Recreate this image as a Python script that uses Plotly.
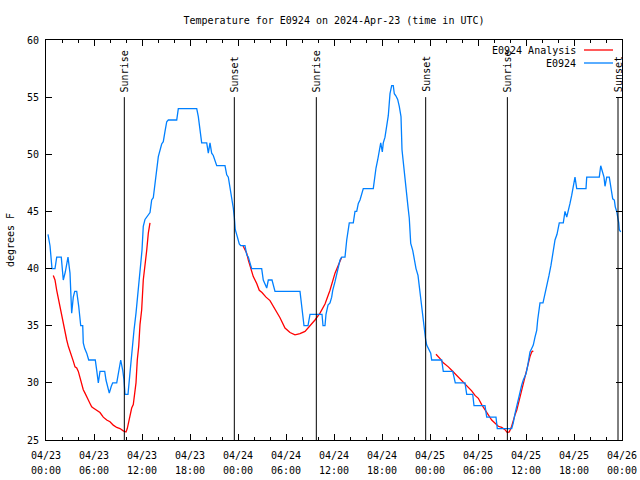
import plotly.graph_objects as go
import pandas as pd

TITLE = "Temperature for E0924 on 2024-Apr-23 (time in UTC)"
START = "2024-04-23 00:00"
END = "2024-04-26 00:00"

# Observations (E0924): hours since 2024-04-23 00:00 UTC, degrees F
obs_hours = [0.25, 0.5, 0.75, 1.125, 1.34, 1.91, 2.16, 2.41, 2.75, 3.0, 3.21, 3.41, 3.59, 3.84,
             4.09, 4.25, 4.34, 4.59, 4.66, 4.84, 5.09, 5.34, 6.16, 6.34, 6.54, 6.75, 7.34, 7.5,
             7.91, 8.16, 8.34, 8.84, 9.09, 9.34, 9.59, 9.75, 9.875, 10.25, 10.5, 10.75, 11.0,
             11.25, 11.5, 11.75, 12.0, 12.16, 12.375, 13.0, 13.21, 13.41, 13.625, 13.84, 14.04,
             14.46, 14.66, 14.875, 15.09, 15.29, 16.34, 16.54, 18.84, 19.04, 19.25, 19.46, 20.09,
             20.29, 20.5, 20.71, 20.91, 21.125, 21.34, 22.375, 22.59, 22.79, 23.0, 23.21, 23.41,
             23.54, 23.66, 23.91, 24.16, 24.34, 24.875, 25.09, 25.29, 25.5, 25.71, 26.96, 27.16,
             27.59, 27.79, 28.25, 28.625, 31.75, 31.875, 32.0, 32.25, 32.75, 33.0, 34.5, 34.625,
             34.875, 35.0, 35.25, 35.5, 35.71, 35.84, 36.125, 36.34, 36.54, 36.75, 36.96, 37.375,
             37.59, 37.79, 37.91, 38.41, 38.625, 38.84, 39.04, 39.25, 39.46, 39.66, 40.91, 41.04,
             41.25, 41.46, 41.66, 41.84, 42.04, 42.16, 42.375, 42.59, 42.79, 43.0, 43.21, 43.41,
             43.54, 43.75, 43.96, 44.16, 44.375, 44.5, 44.66, 44.91, 45.09, 45.25, 45.41, 45.59,
             45.84, 46.0, 46.25, 46.5, 46.66, 46.84, 47.0, 47.16, 47.34, 47.46, 47.59, 47.79,
             48.09, 48.21, 49.46, 49.66, 50.84, 51.0, 51.16, 52.375, 52.59, 53.34, 53.5, 54.875,
             55.09, 56.25, 56.41, 58.21, 58.41, 58.625, 58.84, 59.04, 59.25, 59.46, 59.66, 60.0,
             60.16, 60.34, 60.5, 60.71, 60.91, 61.125, 61.34, 61.46, 61.75, 62.125, 62.5, 62.875,
             63.125, 63.375, 63.625, 63.875, 64.16, 64.66, 64.875, 65.09, 65.29, 65.5, 65.71,
             65.91, 66.125, 66.34, 67.5, 67.59, 69.16, 69.34, 69.59, 69.75, 69.875, 70.09, 70.41,
             70.59, 70.75, 70.84, 71.04, 71.16, 71.34, 71.5, 71.59, 71.66, 71.84]
obs_temp = [43.0, 42.0, 40.0, 40.0, 41.0, 41.0, 39.0, 39.7, 41.0, 39.6, 36.1, 37.5, 38.0, 38.0,
            36.7, 35.8, 35.0, 35.0, 33.5, 33.0, 32.6, 32.0, 32.0, 31.1, 30.0, 31.0, 31.0, 30.25,
            29.1, 29.7, 30.0, 30.0, 31.1, 32.0, 31.1, 30.25, 29.0, 29.0, 30.9, 32.9, 34.6,
            36.1, 38.1, 40.2, 41.6, 43.7, 44.3, 44.9, 46.0, 46.2, 47.5, 48.8, 49.8,
            50.9, 51.1, 52.0, 52.85, 53.0, 53.0, 54.0, 54.0, 53.3, 52.1, 51.0, 51.0,
            50.1, 51.0, 50.1, 49.9, 49.5, 49.0, 49.0, 48.2, 48.0, 47.2, 46.1, 45.3,
            44.5, 43.4, 42.8, 42.15, 42.0, 42.0, 41.2, 41.0, 40.5, 40.0, 40.0, 39.0,
            38.3, 39.0, 39.0, 38.0, 38.0, 37.3, 36.4, 35.0, 35.0, 36.0, 36.0, 35.0,
            35.0, 36.0, 36.8, 37.0, 37.5, 38.1, 38.85, 39.6, 40.0, 40.75, 41.0, 41.0,
            42.5, 43.8, 44.0, 44.0, 45.0, 45.0, 45.7, 46.0, 46.6, 47.0, 47.0, 47.9,
            48.8, 49.5, 50.4, 51.0, 50.2, 51.0, 51.5, 52.6, 53.4, 55.3, 56.0, 56.0,
            55.3, 55.1, 54.8, 54.2, 53.3, 50.4, 49.2, 47.75, 46.6, 45.4, 44.4, 42.2,
            41.6, 40.9, 40.0, 39.4, 38.4, 37.4, 36.5, 35.6, 34.6, 33.75, 33.3, 33.0,
            32.6, 32.0, 32.0, 31.0, 31.0, 30.5, 30.0, 30.0, 29.0, 29.0, 28.0, 28.0,
            27.0, 27.0, 26.0, 26.0, 26.5, 27.3, 28.0, 28.65, 29.2, 29.8, 30.25, 30.8,
            31.3, 32.0, 32.7, 33.0, 33.3, 34.0, 34.6, 35.5, 37.0, 37.0, 38.1, 39.4,
            40.3, 41.6, 42.5, 43.0, 44.0, 44.0, 45.0, 44.5, 45.0, 45.7, 46.4,
            47.2, 48.0, 47.0, 47.0, 48.0, 48.0, 49.0, 48.3, 48.0, 47.2, 48.0, 48.0,
            47.2, 46.7, 46.1, 46.0, 45.4, 45.0, 44.5, 44.0, 43.4, 43.2]

# Analysis (E0924 Analysis): three night-time segments
ana1_hours = [0.91, 1.125, 1.34, 1.54, 1.75, 1.96, 2.16, 2.375, 2.59, 2.79, 3.0, 3.21, 3.41, 3.625,
              3.84, 4.04, 4.25, 4.46, 4.66, 4.875, 5.09, 5.29, 5.5, 5.71, 5.91, 6.34, 6.75, 7.16,
              7.59, 8.0, 8.41, 8.84, 9.25, 9.66, 10.0, 10.16, 10.34, 10.5, 10.71, 10.91, 11.04,
              11.25, 11.41, 11.59, 11.75, 11.96, 12.16, 12.375, 12.59, 12.79, 13.0]
ana1_temp = [39.4, 39.0, 38.1, 37.4, 36.7, 35.9, 35.1, 34.3, 33.75, 33.2, 32.8, 32.4, 31.9, 31.4,
             31.3, 31.0, 30.4, 30.0, 29.4, 29.1, 28.85, 28.5, 28.2, 27.9, 27.8, 27.6, 27.4, 27.0,
             26.75, 26.6, 26.3, 26.1, 26.0, 25.8, 25.7, 26.0, 26.6, 27.3, 27.8, 28.1, 29.1,
             30.0, 32.0, 33.2, 35.1, 36.4, 39.0, 40.2, 41.6, 43.1, 44.0]
ana2_hours = [24.625, 24.875, 25.09, 25.29, 25.5, 25.71, 25.91, 26.34, 26.66, 27.0, 27.5, 28.0,
              28.625, 29.25, 29.875, 30.5, 31.125, 31.75, 32.375, 33.0, 33.625, 34.25, 34.875,
              35.5, 35.71, 35.91, 36.125, 36.54, 36.96]
ana2_temp = [42.0, 41.7, 41.35, 40.75, 40.2, 39.6, 39.3, 38.7, 38.1, 37.9, 37.5, 37.2,
             36.5, 35.7, 34.8, 34.4, 34.2, 34.3, 34.5, 35.0, 35.5, 36.1, 36.9,
             38.1, 38.6, 39.0, 39.6, 40.3, 41.0]
ana3_hours = [48.75, 49.04, 49.34, 49.59, 49.875, 50.29, 50.71, 51.125, 51.54, 51.96, 52.375,
              52.79, 53.21, 53.625, 54.04, 54.46, 54.875, 55.29, 55.71, 56.125, 56.54, 56.96,
              57.375, 57.66, 57.91, 58.21, 58.41, 58.625, 58.84, 59.04, 59.25, 59.46, 59.66,
              59.875, 60.09, 60.29, 60.5, 60.71, 60.91]
ana3_temp = [32.5, 32.3, 32.05, 31.8, 31.65, 31.4, 31.1, 30.8, 30.5, 30.25, 29.9,
             29.6, 29.3, 28.9, 28.65, 28.1, 27.6, 27.2, 26.75, 26.5, 26.2, 26.1,
             25.9, 25.65, 25.7, 26.2, 26.75, 27.2, 27.6, 28.2, 28.7, 29.4, 30.0,
             30.5, 31.1, 31.7, 32.3, 32.7, 32.8]

# Sun events, hours since start
sun_labels = ["Sunrise", "Sunset", "Sunrise", "Sunset", "Sunrise", "Sunset"]
sun_hours = [9.79, 23.54, 33.79, 47.46, 57.67, 71.5]
sun_line_bottom = 25
sun_line_top = 55

y_min, y_max, y_step = 25, 60, 5

RED = "#ff0000"
BLUE = "#0080ff"
FONT = "DejaVu Sans Mono"

base = pd.Timestamp(START)
def to_time(hours):
    return [base + pd.Timedelta(hours=h) for h in hours]

ana_x, ana_y = [], []
for hs, ts in [(ana1_hours, ana1_temp), (ana2_hours, ana2_temp), (ana3_hours, ana3_temp)]:
    ana_x += to_time(hs) + [None]
    ana_y += ts + [None]

fig = go.Figure()
fig.add_trace(go.Scatter(x=ana_x, y=ana_y, mode="lines", name="E0924 Analysis",
                         line=dict(color=RED, width=1.3), connectgaps=False))
fig.add_trace(go.Scatter(x=to_time(obs_hours), y=obs_temp, mode="lines", name="E0924",
                         line=dict(color=BLUE, width=1.3)))
# invisible helper trace so the second (hour-label) x axis is drawn
fig.add_trace(go.Scatter(x=[START, END], y=[y_min, y_min], mode="lines", xaxis="x2",
                         line=dict(width=0), hoverinfo="skip", showlegend=False))

for lab, h in zip(sun_labels, sun_hours):
    t = base + pd.Timedelta(hours=h)
    fig.add_shape(type="line", xref="x", yref="y", x0=t, x1=t, y0=sun_line_bottom,
                  y1=sun_line_top, line=dict(color="black", width=1))
    fig.add_annotation(x=t, y=sun_line_top, xref="x", yref="y", text=lab, showarrow=False,
                       textangle=-90, xanchor="center", yanchor="bottom", yshift=3,
                       font=dict(family=FONT, size=10, color="black"))

# gnuplot-style legend: text right-aligned, sample line to the right
legend_items = [("E0924 Analysis", RED), ("E0924", BLUE)]
for i, (name, col) in enumerate(legend_items):
    ypix = 50 + 13 * i
    yp = 1 - (ypix - 40) / 400
    fig.add_annotation(x=(578 - 46) / 576, y=yp, xref="paper", yref="paper", text=name,
                       showarrow=False, xanchor="right", yanchor="middle",
                       font=dict(family=FONT, size=10, color="black"))
    fig.add_shape(type="line", xref="paper", yref="paper", x0=(584 - 46) / 576,
                  x1=(613 - 46) / 576, y0=yp, y1=yp, line=dict(color=col, width=1.3))

fig.update_layout(
    width=640, height=480,
    margin=dict(l=46, r=18, t=40, b=40),
    paper_bgcolor="white", plot_bgcolor="white",
    showlegend=False,
    title=dict(text=TITLE, x=0.5, xref="paper", y=1 - 20 / 480, yanchor="middle",
               font=dict(family=FONT, size=10, color="black")),
    font=dict(family=FONT, size=10, color="black"),
    xaxis=dict(type="date", range=[START, END], showgrid=False, zeroline=False,
               showline=True, linecolor="black", linewidth=1, mirror="ticks",
               ticks="inside", ticklen=6, tickcolor="black", automargin=False,
               dtick=6 * 3600 * 1000, tick0=START, tickformat="%m/%d",
               ticklabelstandoff=6, tickfont=dict(family=FONT, size=10),
               minor=dict(ticks="inside", ticklen=3, dtick=2 * 3600 * 1000, tick0=START,
                          tickcolor="black", showgrid=False)),
    xaxis2=dict(type="date", overlaying="x", matches="x", side="bottom", anchor="y",
                range=[START, END], showgrid=False, zeroline=False, showline=False,
                ticks="", automargin=False, dtick=6 * 3600 * 1000, tick0=START,
                tickformat="%H:%M", ticklabelstandoff=23, tickfont=dict(family=FONT, size=10)),
    yaxis=dict(range=[y_min, y_max], dtick=y_step, showgrid=False, zeroline=False,
               showline=True, linecolor="black", linewidth=1, mirror="ticks",
               ticks="inside", ticklen=6, tickcolor="black", automargin=False,
               ticklabelstandoff=4,
               title=dict(text="degrees F", font=dict(family=FONT, size=10), standoff=10),
               tickfont=dict(family=FONT, size=10)),
)

fig.write_html("out.html")
